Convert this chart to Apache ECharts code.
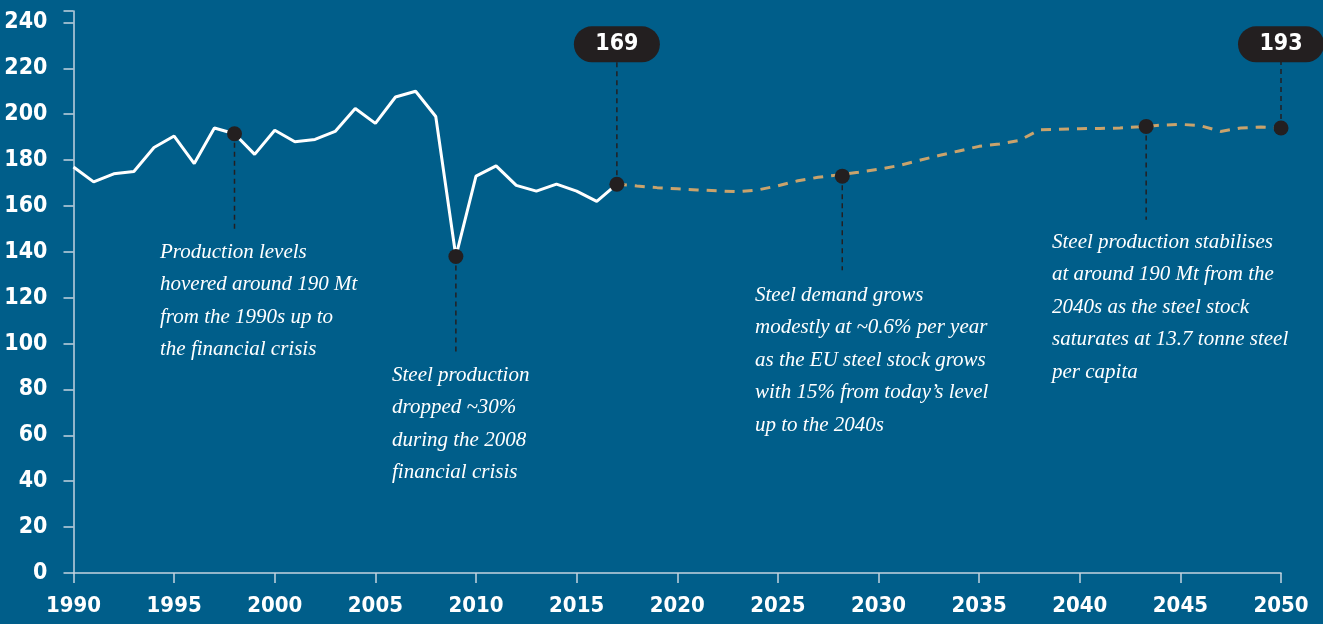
<!DOCTYPE html>
<html>
<head>
<meta charset="utf-8">
<script src="https://cdn.jsdelivr.net/npm/echarts@6/dist/echarts.min.js"></script>
<style>
  html, body { margin: 0; padding: 0; background: #005e8a; }
  #main { width: 1323px; height: 624px; }
</style>
</head>
<body>
<div id="main"></div>
<script>
// historical steel production (Mt), 1990-2017
var histYears = [1990,1991,1992,1993,1994,1995,1996,1997,1998,1999,2000,2001,2002,2003,2004,2005,2006,2007,2008,2009,2010,2011,2012,2013,2014,2015,2016,2017];
var histValues = [177,170.5,174,175,185.5,190.5,178.5,194,191.5,182.5,193,188,189,192.5,202.5,196,207.5,210,199,138,173,177.5,169,166.5,169.5,166.5,162,169.5];

// projection 2017-2050
var projYears = [2017,2018,2019,2020,2021,2022,2023,2024,2025,2026,2027,2028,2029,2030,2031,2032,2033,2034,2035,2036,2037,2038,2039,2040,2041,2042,2043,2044,2045,2046,2047,2048,2049,2050];
var projValues = [169.5,168.7,168,167.5,167,166.6,166.2,167,168.8,171,172.5,173.5,174.7,176,177.6,179.8,182,184,186,187,188.6,193.2,193.5,193.7,193.8,194,194.5,195.2,195.6,195,192.5,194,194.4,194];

// highlighted points
var dotYears = [1998, 2009, 2017, 2028.2, 2043.3, 2050];
var dotValues = [191.5, 138, 169.5, 173, 194.7, 194];
var leaderEnds = [149, 95, 226, 132, 154, 226];

var pillYears = [2017, 2050];
var pillLabels = ['169', '193'];

var yTicks = [0,20,40,60,80,100,120,140,160,180,200,220,240];

var notes = [
  { left: 160, top: 236, text: 'Production levels\nhovered around 190 Mt\nfrom the 1990s up to\nthe financial crisis' },
  { left: 392, top: 359, text: 'Steel production\ndropped ~30%\nduring the 2008\nfinancial crisis' },
  { left: 755, top: 279, text: 'Steel demand grows\nmodestly at ~0.6% per year\nas the EU steel stock grows\nwith 15% from today\u2019s level\nup to the 2040s' },
  { left: 1052, top: 226, text: 'Steel production stabilises\nat around 190 Mt from the\n2040s as the steel stock\nsaturates at 13.7 tonne steel\nper capita' }
];

var axisFont = '"DejaVu Sans Condensed", sans-serif';
var axisColor = '#c3d3df';
var dark = '#231f20';

var myChart = echarts.init(document.getElementById('main'));

var series = [];

// leader lines (drawn first so dots cover them)
dotYears.forEach(function (yr, i) {
  series.push({
    type: 'line',
    data: [[yr, dotValues[i]], [yr, leaderEnds[i]]],
    symbol: 'none',
    silent: true,
    lineStyle: { color: dark, width: 1.5, type: [5, 4] },
    z: 1
  });
});

series.push({
  name: 'projection',
  type: 'line',
  data: projYears.map(function (y, i) { return [y, projValues[i]]; }),
  symbol: 'none',
  lineStyle: { color: '#c9a36c', width: 3, type: [10, 8] },
  z: 2
});

series.push({
  name: 'history',
  type: 'line',
  data: histYears.map(function (y, i) { return [y, histValues[i]]; }),
  symbol: 'none',
  lineStyle: { color: '#ffffff', width: 3 },
  z: 3
});

series.push({
  type: 'scatter',
  data: dotYears.map(function (y, i) { return [y, dotValues[i]]; }),
  symbolSize: 15,
  itemStyle: { color: dark, opacity: 1 },
  z: 4
});

series.push({
  type: 'scatter',
  data: pillYears.map(function (y, i) { return [y, 230.5]; }),
  symbolSize: 1,
  itemStyle: { opacity: 1, color: dark },
  z: 5,
  label: {
    show: true,
    position: 'inside',
    formatter: function (p) { return pillLabels[p.dataIndex]; },
    color: '#ffffff',
    fontFamily: axisFont,
    fontWeight: 'bold',
    fontSize: 23,
    backgroundColor: dark,
    borderRadius: 18,
    width: 86,
    height: 36,
    align: 'center',
    verticalAlign: 'middle',
    lineHeight: 36
  }
});

myChart.setOption({
  backgroundColor: '#005e8a',
  animation: false,
  grid: { left: 73.5, right: 42, top: 11, bottom: 51 },
  xAxis: {
    type: 'value',
    min: 1990,
    max: 2050,
    interval: 5,
    axisLine: { lineStyle: { color: axisColor, width: 1.5 } },
    axisTick: { show: true, length: 10, lineStyle: { color: axisColor, width: 1.5 } },
    splitLine: { show: false },
    axisLabel: {
      margin: 22,
      color: '#fff',
      fontFamily: axisFont,
      fontWeight: 'bold',
      fontSize: 22,
      formatter: function (v) { return String(v); }
    }
  },
  yAxis: {
    type: 'value',
    min: yTicks[0],
    max: 245,
    interval: 20,
    axisLine: { show: true, lineStyle: { color: axisColor, width: 1.5 } },
    axisTick: { show: true, length: 10, lineStyle: { color: axisColor, width: 1.5 } },
    splitLine: { show: false },
    axisLabel: {
      margin: 26,
      color: '#fff',
      fontFamily: axisFont,
      fontWeight: 'bold',
      fontSize: 23,
      formatter: function (v) { return yTicks.indexOf(v) >= 0 ? String(v) : ''; }
    }
  },
  graphic: notes.map(function (n) {
    return {
      type: 'text',
      left: n.left,
      top: n.top,
      style: {
        text: n.text,
        fill: '#fff',
        font: 'italic 21px "Liberation Serif", "DejaVu Serif", serif',
        lineHeight: 32.5
      }
    };
  }),
  series: series
});
</script>
</body>
</html>
